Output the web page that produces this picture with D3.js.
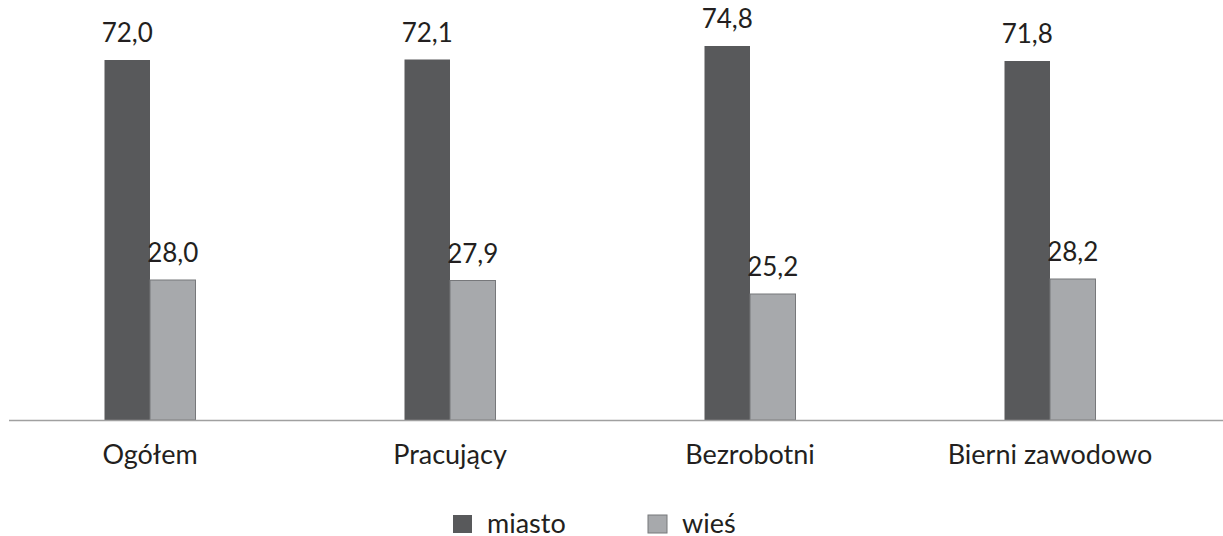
<!DOCTYPE html>
<html><head><meta charset="utf-8">
<script src="https://cdn.jsdelivr.net/npm/d3@7"></script>
<style>body{margin:0;background:#fff}svg{display:block}text{font-family:Lato,"Open Sans",sans-serif;fill:#231f20}</style>
</head><body>
<svg id="c" width="1223" height="536"></svg>
<script>
const categories = ["Ogółem","Pracujący","Bezrobotni","Bierni zawodowo"];
const miasto = [72.0,72.1,74.8,71.8];
const wies = [28.0,27.9,25.2,28.2];
const seriesNames = ["miasto","wieś"];
const colors = ["#58595b","#a7a9ac"];

const svg = d3.select("#c");
const x = d3.scaleBand().domain(categories).range([0,1200]).paddingInner(0).paddingOuter(0);
const y = d3.scaleLinear().domain([0,100]).range([420,-80]);
const barW = 45.5;
const fmt = v => v.toFixed(1).replace(".", ",");

const series = [miasto, wies];
series.forEach((vals, si) => {
  const g = svg.append("g");
  categories.forEach((c, i) => {
    const cx = x(c) + x.bandwidth()/2;
    const bx = si === 0 ? cx - barW : cx;
    g.append("rect").attr("x", bx).attr("y", y(vals[i])).attr("width", barW)
      .attr("height", y(0) - y(vals[i])).attr("fill", colors[si])
      .attr("stroke", si === 1 ? "#77787b" : "none").attr("stroke-width", si===1?1:0);
    g.append("text").attr("x", bx + barW/2).attr("y", y(vals[i]) - 18)
      .attr("text-anchor","middle").attr("font-size", 26).text(fmt(vals[i]));
  });
});

svg.append("line").attr("x1", 9).attr("x2", 1223).attr("y1", 420.5).attr("y2", 420.5)
  .attr("stroke", "#a0a0a0").attr("stroke-width", 1.5);

categories.forEach(c => {
  svg.append("text").attr("x", x(c) + x.bandwidth()/2).attr("y", 464)
    .attr("text-anchor","middle").attr("font-size", 27).text(c);
});

const legX = [453, 648];
seriesNames.forEach((n, i) => {
  svg.append("rect").attr("x", legX[i]).attr("y", 515).attr("width", 19).attr("height", 18)
    .attr("fill", colors[i]).attr("stroke", i===1?"#77787b":"none");
  svg.append("text").attr("x", legX[i] + 34).attr("y", 533).attr("font-size", 27).text(n);
});
</script>
</body></html>
